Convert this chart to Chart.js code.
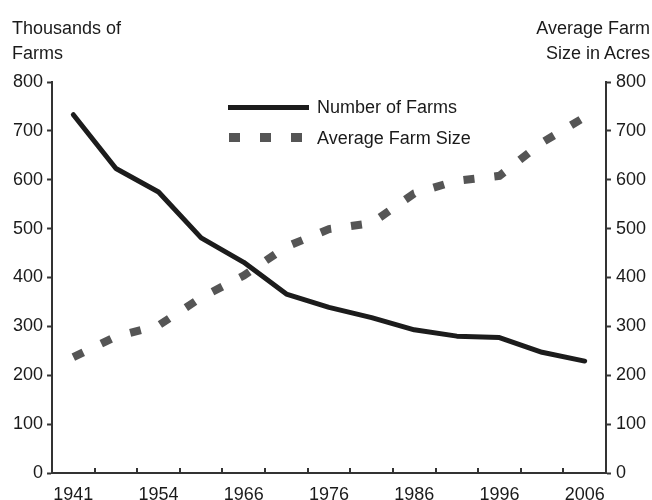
<!DOCTYPE html>
<html>
<head>
<meta charset="utf-8">
<script src="https://cdn.jsdelivr.net/npm/chart.js"></script>
<style>
    html, body { margin: 0; padding: 0; background: #fff; }
    .wrap {
        position: relative;
        width: 652px;
        height: 500px;
        font-family: "Liberation Sans", Arial, sans-serif;
        color: #1a1a1a;
    }
    .wrap canvas { position: absolute; left: 0; top: 0; }
    .axis-title { position: absolute; top: 16px; font-size: 18px; line-height: 25px; }
    .axis-title.left { left: 12px; }
    .axis-title.right { right: 2px; text-align: right; }
    .legend { position: absolute; left: 228px; top: 97px; font-size: 18px; line-height: 20px; }
    .legend-row { position: relative; height: 31px; padding-left: 89px; white-space: nowrap; }
    .swatch { position: absolute; left: 0; }
    .swatch.solid { top: 8px; width: 81px; height: 5px; background: #1c1c1c; }
    .swatch.dashed { top: 5px; left: 1px; width: 73px; height: 9px; }
</style>
</head>
<body>
<div class="wrap">
    <canvas id="farmChart" width="652" height="500"></canvas>
    <div class="axis-title left">Thousands of<br>Farms</div>
    <div class="axis-title right">Average Farm<br>Size in Acres</div>
    <div class="legend">
        <div class="legend-row"><span class="swatch solid"></span>Number of Farms</div>
        <div class="legend-row"><span class="swatch dashed" id="dashSwatch"></span>Average Farm Size</div>
    </div>
</div>
<script>
    // census years (one category each), only every other one is labelled
    const years = [1941, 1951, 1956, 1961, 1966, 1971, 1976, 1981, 1986, 1991, 1996, 2001, 2006];
    const tickLabels = ['1941', '', '1954', '', '1966', '', '1976', '', '1986', '', '1996', '', '2006'];
    const farmsThousands = [733, 623, 575, 481, 431, 366, 339, 318, 293, 280, 277, 247, 229];
    const avgFarmSize = [237, 279, 302, 359, 404, 463, 499, 511, 572, 598, 608, 676, 728];
    const sizeDash = [11, 20];

    const fontFamily = '"Liberation Sans", Arial, sans-serif';
    const axisColor = '#333';
    const textColor = '#1a1a1a';

    document.getElementById('dashSwatch').style.background =
        'repeating-linear-gradient(to right, #555 0 ' + sizeDash[0] + 'px, transparent ' +
        sizeDash[0] + 'px ' + (sizeDash[0] + sizeDash[1]) + 'px)';

    // short tick marks pointing up into the plot, between the year categories
    const innerTicks = {
        id: 'innerTicks',
        afterDatasetsDraw: function (chart) {
            var xs = chart.scales.x;
            var ctx = chart.ctx;
            var bottom = chart.chartArea.bottom;
            ctx.save();
            ctx.strokeStyle = axisColor;
            ctx.lineWidth = 2;
            ctx.beginPath();
            for (var i = 1; i < years.length; i++) {
                var px = Math.round((xs.getPixelForValue(i - 1) + xs.getPixelForValue(i)) / 2);
                ctx.moveTo(px, bottom);
                ctx.lineTo(px, bottom - 5);
            }
            ctx.stroke();
            ctx.restore();
        }
    };

    function yAxis(position, padding) {
        return {
            position: position,
            min: 0,
            max: 800,
            ticks: {
                stepSize: 100,
                padding: padding,
                color: textColor,
                font: { family: fontFamily, size: 18, lineHeight: 0.2 }
            },
            grid: { drawOnChartArea: false, tickLength: 5, tickColor: axisColor, tickWidth: 2 },
            border: { color: axisColor, width: 2 }
        };
    }

    new Chart(document.getElementById('farmChart'), {
        type: 'line',
        data: {
            labels: years.map(String),
            datasets: [{
                label: 'Number of Farms',
                data: farmsThousands,
                yAxisID: 'y',
                borderColor: '#1c1c1c',
                borderWidth: 5,
                borderJoinStyle: 'round',
                borderCapStyle: 'round',
                pointRadius: 0,
                tension: 0
            }, {
                label: 'Average Farm Size',
                data: avgFarmSize,
                yAxisID: 'y1',
                borderColor: '#555',
                borderWidth: 8,
                borderDash: sizeDash,
                borderCapStyle: 'butt',
                pointRadius: 0,
                tension: 0
            }]
        },
        options: {
            responsive: false,
            animation: false,
            layout: { padding: { top: 82, left: 9, right: 1, bottom: 0 } },
            plugins: {
                legend: { display: false },
                tooltip: { enabled: false }
            },
            scales: {
                x: {
                    offset: true,
                    grid: { offset: true, display: true, drawOnChartArea: false, drawTicks: false },
                    border: { color: axisColor, width: 2 },
                    ticks: {
                        autoSkip: false,
                        maxRotation: 0,
                        padding: 13,
                        color: textColor,
                        font: { family: fontFamily, size: 18, lineHeight: 1 },
                        callback: function (value, index) { return tickLabels[index]; }
                    },
                    // labels sit close to the bottom edge, keep the axis band short
                    afterFit: function (scale) { scale.height = 27; }
                },
                y: yAxis('left', 4),
                y1: yAxis('right', 5)
            }
        },
        plugins: [innerTicks]
    });
</script>
</body>
</html>
